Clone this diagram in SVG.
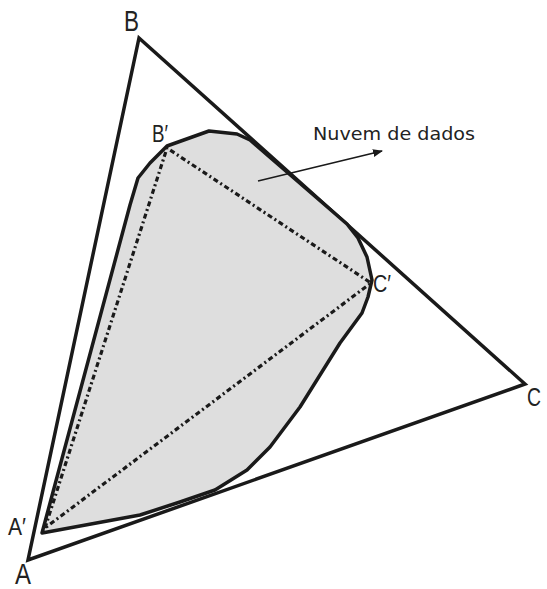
<svg xmlns="http://www.w3.org/2000/svg" width="547" height="589" viewBox="0 0 547 589">
<defs>
<marker id="arr" viewBox="0 0 10 10" refX="9" refY="5" markerWidth="10" markerHeight="10" markerUnits="userSpaceOnUse" orient="auto">
<path d="M0,1 L10,5 L0,9 Z" fill="#1a1a1a"/>
</marker>
</defs>
<style>
.tri{fill:none;stroke:#1a1a1a;stroke-width:3.5;stroke-linejoin:miter}
.cloud{fill:#dedede;stroke:#1a1a1a;stroke-width:3.5;stroke-linejoin:round}
.dot{fill:none;stroke:#1a1a1a;stroke-width:3.2;stroke-dasharray:5 3 2 3}
.lbl{font-family:"Liberation Sans",Arial,sans-serif;fill:#222}
.big{font-size:29px}
.sm{font-size:23px}
.note{font-family:"DejaVu Sans","Liberation Sans",sans-serif;font-size:18px;fill:#222}
</style>
<g id="outer-triangle">
<polygon class="tri" points="139,38 525,384 28,560"/>
</g>
<g id="data-cloud">
<polygon class="cloud" points="42,533 130,205 138,178 150,163 167,146 209,131 237,134 250,140 347,224 358,238 367,257 372,280 368,297 362,313 340,343 300,407 270,447 247,470 215,490 180,502 140,515"/>
</g>
<g id="inner-triangle">
<polygon class="dot" points="45,528 167,148 371,283"/>
</g>
<g id="connectors">
<line x1="258" y1="181" x2="382" y2="151" stroke="#1a1a1a" stroke-width="1.6" marker-end="url(#arr)"/>
</g>
<g id="labels">
<text class="lbl big" x="124" y="31" textLength="15" lengthAdjust="spacingAndGlyphs">B</text>
<text class="lbl big" x="15" y="584" textLength="16" lengthAdjust="spacingAndGlyphs">A</text>
<text class="lbl" x="527" y="406" font-size="26" textLength="14" lengthAdjust="spacingAndGlyphs">C</text>
<text class="lbl sm" x="152" y="142" textLength="16" lengthAdjust="spacingAndGlyphs">B′</text>
<text class="lbl sm" x="373" y="292" textLength="18" lengthAdjust="spacingAndGlyphs">C′</text>
<text class="lbl sm" x="8" y="535" textLength="18" lengthAdjust="spacingAndGlyphs">A′</text>
<text class="note" x="313" y="140" textLength="162" lengthAdjust="spacingAndGlyphs">Nuvem de dados</text>
</g>
</svg>
